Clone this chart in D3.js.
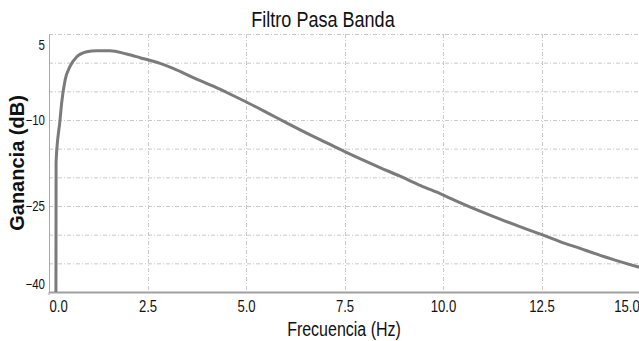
<!DOCTYPE html>
<html>
<head>
<meta charset="utf-8">
<script src="https://cdn.jsdelivr.net/npm/d3@7"></script>
<style>
  html, body { margin: 0; padding: 0; background: #ffffff; }
  svg { display: block; }
  .narrow { font-family: "Liberation Sans", Arial, sans-serif; }
</style>
</head>
<body>
<svg id="chart" width="639" height="341"></svg>
<script>
// Band-pass filter magnitude response (gain in dB vs frequency in Hz)
const frequency = [0.175, 0.18, 0.28, 0.32, 0.41, 0.53, 0.70, 0.96, 1.21, 1.55, 1.97, 2.31, 2.82, 3.15, 3.66, 4.17, 4.51, 5.02, 5.53, 6.03, 6.54, 7.05, 7.56, 8.40, 8.91, 9.42, 9.98, 10.43, 10.94, 11.45, 11.95, 12.51, 12.97, 13.48, 13.99, 14.49, 15.0];
const gain = [-45, -17.3, -10.0, -7.1, -3.0, -0.7, 1.0, 1.9, 2.1, 2.1, 1.5, 0.87, -0.11, -0.98, -2.6, -4.1, -5.2, -6.9, -8.7, -10.5, -12.3, -14.0, -15.7, -18.3, -19.8, -21.4, -23.0, -24.4, -25.9, -27.3, -28.6, -30.0, -31.2, -32.4, -33.6, -34.7, -35.7];

const xTicks = [0, 2.5, 5, 7.5, 10, 12.5, 15];
const yTicks = [5, -10, -25, -40];
const yGrid = [5, 0, -5, -10, -15, -20, -25, -30, -35];

const title = "Filtro Pasa Banda";
const xTitle = "Frecuencia (Hz)";
const yTitle = "Ganancia (dB)";

const svg = d3.select("#chart");
const plotLeft = 49, plotRight = 640, plotTop = 34, plotBottom = 292;
const squeeze = "scale(0.82,1)";   // condensed look for labels

const x = d3.scaleLinear().domain([0, 15]).range([plotLeft, plotRight]);
const y = d3.scaleLinear().domain([-40, 5]).range([plotBottom, plotTop]);

const gridColor = "#c9c9c9";
const dash = "4,2,1,2";

// grid
svg.append("g").selectAll("line").data(yGrid).join("line")
  .attr("x1", plotLeft).attr("x2", plotRight)
  .attr("y1", d => y(d) + 0.5).attr("y2", d => y(d) + 0.5)
  .attr("stroke", gridColor).attr("stroke-dasharray", dash);
svg.append("g").selectAll("line").data(xTicks.filter(d => d > 0)).join("line")
  .attr("x1", d => Math.round(x(d)) + 0.5).attr("x2", d => Math.round(x(d)) + 0.5)
  .attr("y1", plotTop).attr("y2", plotBottom)
  .attr("stroke", gridColor).attr("stroke-dasharray", dash);

// axes
const yAxis = svg.append("g").attr("transform", `translate(${plotLeft},0)`)
  .call(d3.axisLeft(y).tickValues(yTicks).tickSize(0).tickPadding(5).tickFormat(d3.format("d")));
yAxis.select(".domain").attr("stroke", "#a8a8a8").attr("stroke-width", 1);
yAxis.selectAll("text")
  .attr("class", "narrow")
  .attr("transform", squeeze)
  .style("font-size", "14px").attr("fill", "#111")
  .attr("dy", d => d === 5 ? "1.1em" : d === -40 ? "-0.25em" : "0.35em");

const xAxis = svg.append("g").attr("transform", `translate(0,${plotBottom})`)
  .call(d3.axisBottom(x).tickValues(xTicks).tickSize(0).tickPadding(9).tickFormat(d3.format(".1f")));
xAxis.select(".domain").attr("stroke", "#a0a0a0").attr("stroke-width", 2);
xAxis.selectAll("text")
  .attr("class", "narrow")
  .attr("transform", squeeze)
  .style("font-size", "16px").attr("fill", "#111")
  .attr("text-anchor", d => d === 0 ? "start" : d === 15 ? "end" : "middle")
  .attr("dx", d => d === 15 ? "-1" : "0");
svg.append("line").attr("x1", plotLeft).attr("x2", plotLeft).attr("y1", plotBottom).attr("y2", plotBottom + 3)
  .attr("stroke", "#a0a0a0");

// curve
svg.append("clipPath").attr("id", "plot-clip").append("rect")
  .attr("x", plotLeft).attr("y", plotTop).attr("width", plotRight - plotLeft).attr("height", plotBottom - plotTop);
const pts = frequency.map((f, i) => [f, gain[i]]);
const line = d3.line().x(d => x(d[0])).y(d => y(d[1])).curve(d3.curveMonotoneX);
svg.append("path").datum(pts)
  .attr("clip-path", "url(#plot-clip)")
  .attr("d", line)
  .attr("fill", "none").attr("stroke", "#7b7b7b").attr("stroke-width", 3)
  .attr("stroke-linejoin", "round");

// titles
svg.append("text").attr("class", "narrow")
  .attr("transform", `translate(323,27) ${squeeze}`).attr("text-anchor", "middle")
  .style("font-size", "22px").attr("fill", "#111").text(title);
svg.append("text").attr("class", "narrow")
  .attr("transform", `translate(${(plotLeft + 639) / 2},336) ${squeeze}`).attr("text-anchor", "middle")
  .style("font-size", "19.5px").attr("fill", "#111").text(xTitle);
svg.append("text")
  .attr("transform", `translate(24,${(plotTop + plotBottom) / 2}) rotate(-90)`)
  .attr("text-anchor", "middle")
  .style("font-family", "'Liberation Sans', Arial, sans-serif")
  .style("font-weight", "bold").style("font-size", "20px").attr("fill", "#111")
  .text(yTitle);
</script>
</body>
</html>
